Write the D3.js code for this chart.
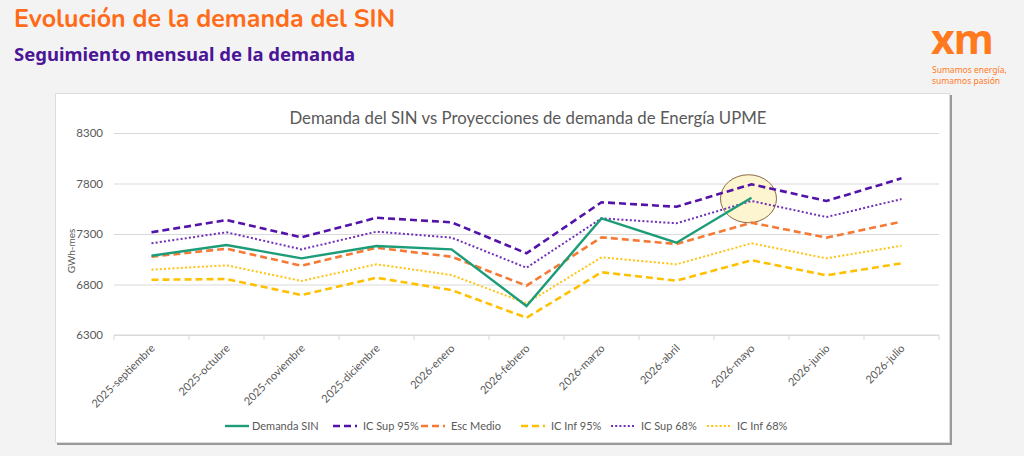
<!DOCTYPE html>
<html>
<head>
<meta charset="utf-8">
<script src="https://cdn.jsdelivr.net/npm/d3@7"></script>
<style>
  body { margin: 0; background: #f4f3f3; }
  svg { display: block; }
</style>
</head>
<body>
<svg width="1024" height="456"></svg>
<script>
// data
let months = ["2025-septiembre", "2025-octubre", "2025-noviembre", "2025-diciembre", "2026-enero",
  "2026-febrero", "2026-marzo", "2026-abril", "2026-mayo", "2026-junio", "2026-julio"]
let demandaSIN = [7085, 7191, 7059, 7181, 7148, 6587, 7455, 7214, 7659]
let icSup95 = [7317, 7438, 7267, 7461, 7416, 7109, 7614, 7570, 7792, 7627, 7851]
let escMedio = [7075, 7154, 6986, 7164, 7075, 6788, 7267, 7201, 7412, 7264, 7422]
let icInf95 = [6847, 6854, 6696, 6867, 6745, 6471, 6921, 6838, 7040, 6891, 7010]
let icSup68 = [7208, 7317, 7148, 7323, 7264, 6966, 7455, 7406, 7627, 7468, 7646]
let icInf68 = [6947, 6990, 6835, 7000, 6894, 6614, 7069, 7000, 7208, 7059, 7184]
let yTicks = [6300, 6800, 7300, 7800, 8300]

let series = [
  { name: "Demanda SIN", values: demandaSIN, color: "#1c9c78", dash: null, width: 2.4 },
  { name: "IC Sup 95%", values: icSup95, color: "#5312a8", dash: "7,4", width: 2.6 },
  { name: "Esc Medio", values: escMedio, color: "#f47a35", dash: "7,4", width: 2.6 },
  { name: "IC Inf 95%", values: icInf95, color: "#ffc000", dash: "7,4", width: 2.6 },
  { name: "IC Sup 68%", values: icSup68, color: "#7030b8", dash: "2,2.2", width: 2 },
  { name: "IC Inf 68%", values: icInf68, color: "#ffc30f", dash: "2,2.2", width: 2 }
]
// draw order: bands first, actual demand on top
let drawOrder = [4, 5, 1, 2, 3, 0]

let svg = d3.select("svg")

// page headings
svg.append("text").attr("x", 14).attr("y", 27)
  .attr("font-family", "Nunito, 'Noto Sans', sans-serif").attr("font-weight", 700)
  .attr("font-size", 25).attr("fill", "#ff6b17")
  .text("Evolución de la demanda del SIN")
svg.append("text").attr("x", 14).attr("y", 61)
  .attr("font-family", "'Noto Sans', sans-serif").attr("font-weight", 700)
  .attr("font-size", 18.5).attr("fill", "#4a1596")
  .text("Seguimiento mensual de la demanda")

// logo
let logo = svg.append("g").attr("transform", "translate(931,0)")
logo.append("text").attr("x", 0).attr("y", 54)
  .attr("font-family", "'Noto Sans', sans-serif").attr("font-weight", 700)
  .attr("font-size", 41).attr("fill", "#ff7a1e").attr("letter-spacing", -1)
  .text("xm")
logo.append("text").attr("x", 1).attr("y", 73)
  .attr("font-family", "'Noto Sans', sans-serif").attr("font-size", 8.5).attr("fill", "#ff7a1e")
  .text("Sumamos energía,")
logo.append("text").attr("x", 1).attr("y", 84)
  .attr("font-family", "'Noto Sans', sans-serif").attr("font-size", 8.5).attr("fill", "#ff7a1e")
  .text("sumamos pasión")

// chart panel
svg.append("rect").attr("x", 57).attr("y", 95).attr("width", 895).attr("height", 350)
  .attr("fill", "#9a9a9a")
svg.append("rect").attr("x", 55.5).attr("y", 93.5).attr("width", 894).attr("height", 349)
  .attr("fill", "#ffffff").attr("stroke", "#dcdcdc")

let margin = { top: 133, left: 114 }
let width = 825, height = 202
let g = svg.append("g").attr("transform", "translate(" + margin.left + "," + margin.top + ")")

let x = d3.scaleBand().domain(months).range([0, width])
let y = d3.scaleLinear().domain([6300, 8300]).range([height, 0])

svg.append("text").attr("x", 528).attr("y", 124).attr("text-anchor", "middle")
  .attr("font-family", "Lato, sans-serif").attr("font-size", 16.8).attr("fill", "#595959")
  .text("Demanda del SIN vs Proyecciones de demanda de Energía UPME")

// gridlines + y labels
g.append("g")
  .call(d3.axisLeft(y).tickValues(yTicks).tickFormat(d3.format("d")).tickSize(-width).tickPadding(11))
  .call(a => a.select(".domain").remove())
  .call(a => a.selectAll("line").attr("stroke", "#d9d9d9"))
  .call(a => a.selectAll("text").attr("fill", "#595959")
    .attr("font-family", "Lato, sans-serif").attr("font-size", 11.5))

// x axis with boundary ticks
let xb = g.append("g").attr("transform", "translate(0," + height + ")")
xb.append("line").attr("x1", 0).attr("x2", width).attr("stroke", "#d9d9d9")
xb.selectAll(".bt").data(d3.range(months.length + 1)).join("line")
  .attr("x1", i => i * x.step()).attr("x2", i => i * x.step())
  .attr("y1", 0).attr("y2", 5).attr("stroke", "#d9d9d9")
xb.selectAll(".lbl").data(months).join("text")
  .attr("transform", d => "translate(" + (x(d) + x.bandwidth() / 2 + 4) + ",14) rotate(-45)")
  .attr("text-anchor", "end")
  .attr("font-family", "Lato, sans-serif").attr("font-size", 11).attr("fill", "#595959")
  .text(d => d)

svg.append("text").attr("transform", "translate(75," + (margin.top + 118) + ") rotate(-90)")
  .attr("text-anchor", "middle").attr("font-family", "Lato, sans-serif")
  .attr("font-size", 10).attr("fill", "#595959").text("GWh-mes")

// highlight around the latest month
let last = demandaSIN.length - 1
g.append("ellipse")
  .attr("cx", x(months[last]) + x.bandwidth() / 2 - 3)
  .attr("cy", y(demandaSIN[last]) + 1)
  .attr("rx", 28).attr("ry", 24)
  .attr("fill", "#fdf5cf").attr("stroke", "#8b6a44").attr("stroke-width", 1)

let line = d3.line()
  .x((d, i) => x(months[i]) + x.bandwidth() / 2)
  .y(d => y(d))

drawOrder.forEach(k => {
  let s = series[k]
  g.append("path")
    .datum(s.values)
    .attr("fill", "none")
    .attr("stroke", s.color)
    .attr("stroke-width", s.width)
    .attr("stroke-dasharray", s.dash)
    .attr("d", line)
})

// legend
let legendX = [225, 333, 421, 521, 611, 707]
let leg = svg.append("g").attr("transform", "translate(0,426)")
series.forEach((s, i) => {
  leg.append("line").attr("x1", legendX[i]).attr("x2", legendX[i] + 24)
    .attr("stroke", s.color).attr("stroke-width", s.width)
    .attr("stroke-dasharray", s.dash)
  leg.append("text").attr("x", legendX[i] + (i === 0 ? 27 : 30)).attr("y", 4)
    .attr("font-family", "Lato, sans-serif").attr("font-size", 11).attr("fill", "#595959")
    .text(s.name)
})
</script>
</body>
</html>
